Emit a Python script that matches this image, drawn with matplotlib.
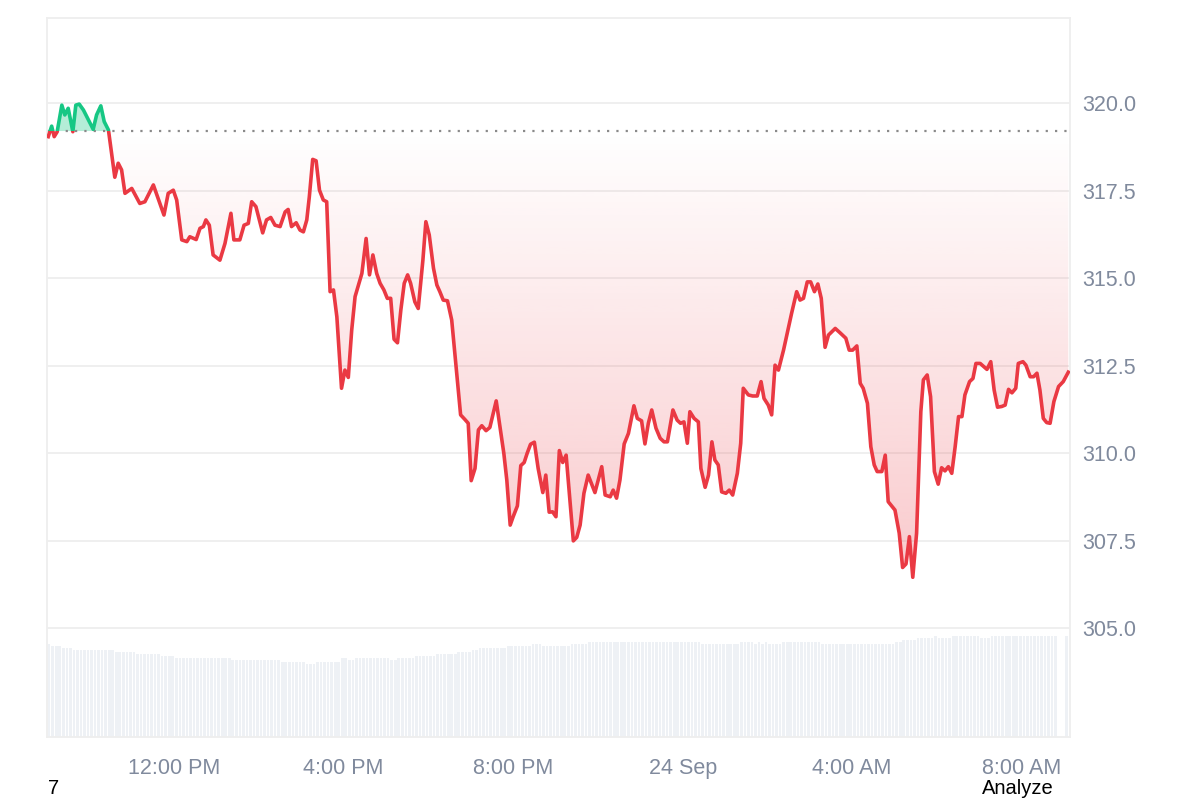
import numpy as np
import matplotlib.pyplot as plt
from matplotlib.path import Path

plt.rcParams['font.family'] = ['Liberation Sans', 'DejaVu Sans']

# hours since 9:00 AM, 23 Sep
hours = [0.03, 0.11, 0.17, 0.24, 0.35, 0.42, 0.50, 0.61, 0.68, 0.76, 0.86, 1.09, 1.17, 1.27, 1.35,
         1.45, 1.53, 1.60, 1.68, 1.76, 1.84, 2.00, 2.19, 2.31, 2.51, 2.76, 2.86, 2.98, 3.06, 3.18,
         3.30, 3.37, 3.52, 3.61, 3.69, 3.75, 3.83, 3.92, 4.08, 4.20, 4.34, 4.41, 4.55, 4.65, 4.75,
         4.83, 4.93, 5.09, 5.18, 5.28, 5.38, 5.50, 5.62, 5.69, 5.77, 5.88, 5.97, 6.05, 6.13, 6.19,
         6.27, 6.35, 6.43, 6.52, 6.60, 6.68, 6.76, 6.84, 6.95, 7.03, 7.11, 7.19, 7.27, 7.43, 7.53,
         7.61, 7.69, 7.78, 7.86, 7.95, 8.03, 8.11, 8.19, 8.27, 8.35, 8.43, 8.51, 8.58, 8.68, 8.76,
         8.87, 8.94, 9.02, 9.12, 9.20, 9.27, 9.35, 9.45, 9.55, 9.76, 9.86, 9.94, 10.01, 10.10, 10.18,
         10.26, 10.36, 10.45, 10.60, 10.69, 10.78, 10.85, 10.93, 11.00, 11.10, 11.18, 11.26, 11.33,
         11.41, 11.50, 11.59, 11.70, 11.77, 11.85, 11.93, 12.01, 12.09, 12.17, 12.25, 12.34, 12.42,
         12.50, 12.58, 12.67, 12.77, 12.93, 13.09, 13.17, 13.29, 13.36, 13.44, 13.52, 13.62, 13.72,
         13.85, 13.93, 14.03, 14.11, 14.19, 14.27, 14.37, 14.47, 14.56, 14.64, 14.77, 14.87, 14.95,
         15.03, 15.11, 15.17, 15.27, 15.37, 15.43, 15.53, 15.61, 15.69, 15.76, 15.84, 15.92, 16.02,
         16.10, 16.18, 16.29, 16.37, 16.43, 16.55, 16.65, 16.76, 16.85, 16.92, 17.02, 17.10, 17.18,
         17.26, 17.38, 17.57, 17.69, 17.77, 17.85, 17.94, 18.02, 18.11, 18.19, 18.27, 18.36, 18.44,
         18.60, 18.71, 18.85, 18.93, 19.01, 19.11, 19.19, 19.26, 19.36, 19.44, 19.52, 19.59, 19.70,
         19.78, 19.85, 20.01, 20.11, 20.19, 20.27, 20.35, 20.43, 20.52, 20.62, 20.68, 20.77, 20.85,
         20.94, 21.03, 21.11, 21.19, 21.27, 21.35, 21.43, 21.51, 21.59, 21.66, 21.77, 21.85, 21.92,
         22.02, 22.18, 22.27, 22.35, 22.43, 22.53, 22.61, 22.69, 22.77, 22.86, 22.92, 23.03, 23.10,
         23.20, 23.28, 23.36, 23.43, 23.51, 23.59, 23.67, 23.76, 23.87, 23.98, 24.10]
price = [319.04, 319.34, 319.04, 319.18, 319.94, 319.66, 319.85, 319.18, 319.94, 319.97, 319.80,
         319.25, 319.66, 319.92, 319.47, 319.23, 318.51, 317.88, 318.28, 318.09, 317.42, 317.56,
         317.13, 317.18, 317.66, 316.80, 317.42, 317.51, 317.23, 316.09, 316.04, 316.18, 316.10,
         316.42, 316.47, 316.66, 316.51, 315.66, 315.51, 315.99, 316.85, 316.09, 316.09, 316.51,
         316.56, 317.18, 317.04, 316.29, 316.66, 316.73, 316.51, 316.47, 316.89, 316.96, 316.47,
         316.58, 316.37, 316.32, 316.66, 317.32, 318.39, 318.35, 317.51, 317.23, 317.18, 314.61,
         314.66, 313.89, 311.85, 312.37, 312.16, 313.51, 314.47, 315.13, 316.13, 315.09, 315.66,
         315.13, 314.85, 314.66, 314.42, 314.42, 313.25, 313.15, 314.09, 314.85, 315.09, 314.85,
         314.32, 314.13, 315.51, 316.61, 316.23, 315.28, 314.80, 314.61, 314.37, 314.35, 313.80,
         311.09, 310.96, 310.85, 309.21, 309.56, 310.66, 310.78, 310.64, 310.73, 311.49, 310.75,
         309.99, 309.23, 307.94, 308.18, 308.49, 309.64, 309.73, 309.99, 310.25, 310.31, 309.56,
         308.87, 309.37, 308.31, 308.32, 308.18, 310.07, 309.73, 309.94, 308.66, 307.49, 307.59,
         307.94, 308.85, 309.37, 308.87, 309.61, 308.80, 308.75, 308.94, 308.71, 309.23, 310.26,
         310.56, 311.35, 310.99, 310.92, 310.26, 310.85, 311.23, 310.71, 310.42, 310.32, 310.32,
         311.23, 310.94, 310.85, 310.89, 310.28, 311.18, 310.99, 310.89, 309.56, 309.02, 309.37,
         310.32, 309.80, 309.66, 308.89, 308.85, 308.94, 308.80, 309.42, 310.28, 311.85, 311.66,
         311.63, 311.63, 312.04, 311.56, 311.37, 311.09, 312.51, 312.37, 312.94, 313.99, 314.61,
         314.37, 314.42, 314.89, 314.89, 314.61, 314.83, 314.42, 313.02, 313.37, 313.56, 313.44,
         313.28, 312.94, 312.94, 313.06, 311.99, 311.85, 311.42, 310.18, 309.66, 309.47, 309.47,
         309.94, 308.61, 308.37, 307.71, 306.73, 306.83, 307.61, 306.45, 307.71, 311.18, 312.09,
         312.23, 311.61, 309.47, 309.11, 309.58, 309.49, 309.61, 309.42, 310.18, 311.04, 311.04,
         311.66, 312.04, 312.13, 312.56, 312.56, 312.39, 312.61, 311.80, 311.31, 311.33, 311.37,
         311.82, 311.72, 311.85, 312.56, 312.61, 312.51, 312.18, 312.18, 312.28, 311.80, 310.99,
         310.87, 310.85, 311.47, 311.90, 312.04, 312.31]
open_price = 319.2

# 5-minute volume bars (relative heights), as runs of equal bars
vol_level = [93, 91, 88.7, 86.7, 84.7, 82.7, 80.7, 78.7, 76.7, 74.7, 72.7, 74.7, 78.7, 76.7, 78.7,
             76.7, 78.7, 80.7, 82.7, 84.7, 86.7, 88.7, 90.7, 92.7, 90.7, 92.7, 94.7, 92.7, 94.7,
             92.7, 94.7, 92.7, 94.7, 92.7, 94.7, 92.7, 94.7, 96.7, 98.7, 100.7, 98.7, 100.7, 98.7,
             100.7, 0, 100.7]
vol_count = [1, 3, 3, 12, 6, 7, 4, 16, 14, 7, 3, 7, 2, 2, 10, 2, 5, 6, 6, 4, 2, 8, 7, 3, 8, 5, 32,
             11, 4, 1, 1, 1, 1, 4, 11, 21, 2, 4, 5, 1, 4, 8, 3, 19, 2, 1]
volume = np.repeat(vol_level, vol_count)

tick_hours = [3, 7, 11, 15, 19, 23]
tick_labels = ['12:00 PM', '4:00 PM', '8:00 PM', '24 Sep', '4:00 AM', '8:00 AM']
price_ticks = [305.0, 307.5, 310.0, 312.5, 315.0, 317.5, 320.0]

red = '#ea3943'
green = '#16c784'
grey_txt = '#808a9d'
x0, x1 = 0, 24.14
y0, y1 = 301.886, 322.43

hours = np.array(hours)
price = np.array(price)

fig = plt.figure(figsize=(12, 8), dpi=100)
rect = [47/1200, 1-737/800, 1023/1200, 719/800]

# volume underneath
axv = fig.add_axes(rect, zorder=1)
axv.bar(np.arange(len(volume))/12 + 0.02, volume, width=0.062, align='edge', color='#eef1f5', lw=0)
axv.set_xlim(x0, x1)
axv.set_ylim(0, 719)
axv.axis('off')

ax = fig.add_axes(rect, zorder=2)
ax.patch.set_visible(False)
ax.set_xlim(x0, x1)
ax.set_ylim(y0, y1)

# gridlines
for p in price_ticks:
    ax.axhline(p, color='#eeeeee', lw=1.3, zorder=0)

# green area above open
ax.fill_between(hours, price, open_price, where=price >= open_price, interpolate=True,
                color=green, alpha=0.32, lw=0, zorder=1)

# red gradient area below open
poly = ax.fill_between(hours, price, open_price, where=price <= open_price, interpolate=True,
                       facecolor='none', lw=0)
clip = Path.make_compound_path(*poly.get_paths())
grad = np.zeros((256, 1, 4))
grad[..., 0], grad[..., 1], grad[..., 2] = 234/255, 57/255, 67/255
grad[..., 3] = np.linspace(0.0, 0.27, 256)[:, None]
im = ax.imshow(grad, extent=[x0, x1, price.min(), open_price], origin='upper',
               aspect='auto', zorder=1, interpolation='bilinear')
im.set_clip_path(clip, transform=ax.transData)

# baseline
ax.axhline(open_price, color='#8a8a8a', ls=(0, (1, 3.2)), lw=1.6, zorder=2)

# price line, coloured by side of open
below = Path([(x0, y0), (x1, y0), (x1, open_price), (x0, open_price), (x0, y0)])
above = Path([(x0, open_price), (x1, open_price), (x1, y1), (x0, y1), (x0, open_price)])
ln_r, = ax.plot(hours, price, color=red, lw=2.6, zorder=3, solid_joinstyle='round')
ln_r.set_clip_path(below, ax.transData)
ln_g, = ax.plot(hours, price, color=green, lw=2.6, zorder=3, solid_joinstyle='round')
ln_g.set_clip_path(above, ax.transData)

ax.set_yticks(price_ticks)
ax.set_yticklabels(['%.1f' % p for p in price_ticks])
ax.yaxis.tick_right()
ax.set_xticks(tick_hours)
ax.set_xticklabels(tick_labels)
ax.tick_params(axis='y', length=0, pad=8.5, labelsize=15.5, labelcolor=grey_txt)
ax.tick_params(axis='x', length=0, pad=15, labelsize=15.5, labelcolor=grey_txt)
for s in ax.spines.values():
    s.set_color('#eeeeee')
    s.set_linewidth(1.3)

fig.text(48/1200, 0.002, '7', fontsize=14.5, color='black', va='bottom')
fig.text(982/1200, 0.002, 'Analyze', fontsize=14.5, color='black', va='bottom')

fig.savefig('out.png', dpi=100)
